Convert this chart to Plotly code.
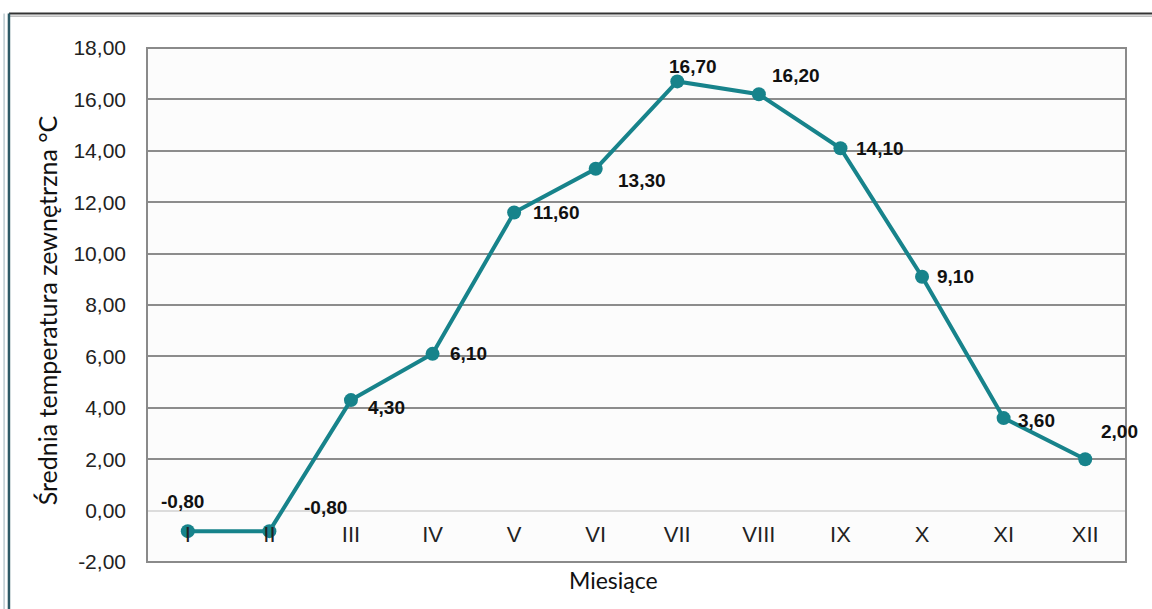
import plotly.graph_objects as go

months = ["I", "II", "III", "IV", "V", "VI", "VII", "VIII", "IX", "X", "XI", "XII"]
temps = [-0.8, -0.8, 4.3, 6.1, 11.6, 13.3, 16.7, 16.2, 14.1, 9.1, 3.6, 2.0]
y_ticks = [-2, 0, 2, 4, 6, 8, 10, 12, 14, 16, 18]

# label offsets in pixels (style)
lbl_dx = [-5, 56, 36, 36, 42, 46, 16, 37, 40, 33, 33, 34]
lbl_dy = [30, 24, -7, 0, 0, -12, 15, 19, 0, 0, -2, 28]


def fmt(v):
    return f"{v:.2f}".replace(".", ",")


teal = "#17838b"
fig = go.Figure()
fig.add_trace(go.Scatter(
    x=months, y=temps, mode="lines+markers",
    line=dict(color=teal, width=4),
    marker=dict(color=teal, size=14),
    hoverinfo="skip", showlegend=False,
))

for m, v, dx, dy in zip(months, temps, lbl_dx, lbl_dy):
    fig.add_annotation(
        x=m, y=v, xref="x", yref="y", showarrow=False,
        text=fmt(v), xshift=dx, yshift=dy,
        font=dict(family="Liberation Sans, Arial", size=19, color="#111111", weight="bold"),
    )

fig.add_annotation(
    text="Średnia temperatura zewnętrzna °C", textangle=-90,
    xref="paper", yref="paper", x=-0.102, y=0.49, xanchor="center", yanchor="middle",
    showarrow=False,
    font=dict(family="Lato, Open Sans", size=25, color="#111111"),
)
fig.add_annotation(
    text="Miesiące", xref="paper", yref="paper", x=0.476, y=-0.035,
    xanchor="center", yanchor="middle", showarrow=False,
    font=dict(family="Lato, Open Sans", size=23, color="#111111"),
)

# plot frame
fig.add_shape(type="rect", xref="paper", yref="paper", x0=0, y0=0, x1=1, y1=1,
              line=dict(color="#8a8a8a", width=2), layer="above")
# outer figure frame lines
fig.add_shape(type="line", xref="paper", yref="paper", x0=-0.141, x1=1.05, y0=1.067, y1=1.067,
              line=dict(color="#333333", width=2))
fig.add_shape(type="line", xref="paper", yref="paper", x0=-0.141, x1=1.05, y0=1.062, y1=1.062,
              line=dict(color="#999999", width=1))
fig.add_shape(type="line", xref="paper", yref="paper", x0=-0.141, x1=-0.141, y0=-0.1, y1=1.067,
              line=dict(color="#2e5a66", width=2.5))
fig.add_shape(type="line", xref="paper", yref="paper", x0=-0.146, x1=-0.146, y0=-0.1, y1=1.067,
              line=dict(color="#9ab0b8", width=1))

fig.update_layout(
    width=1152, height=609,
    margin=dict(l=147, r=26, t=48, b=47),
    paper_bgcolor="white", plot_bgcolor="#fcfcfc",
    font=dict(family="Liberation Sans, Arial", color="#222222"),
    xaxis=dict(
        type="category", categoryarray=months, range=[-0.5, 11.5],
        anchor="free", position=0.1, showline=False, showgrid=False, zeroline=False,
        ticks="", tickfont=dict(size=22, color="#222222"), ticklabelstandoff=8,
    ),
    yaxis=dict(
        range=[-2, 18], tickvals=y_ticks, ticktext=[fmt(t) for t in y_ticks],
        showgrid=True, gridcolor="#8c8c8c", gridwidth=1.5,
        zeroline=True, zerolinecolor="#dcdcdc", zerolinewidth=1.5,
        showline=False, ticks="", ticklabelstandoff=20,
        tickfont=dict(size=21, color="#222222"),
    ),
)

fig.write_html("out.html", config={"displayModeBar": False},
               post_script="document.body.style.margin='0';document.body.style.overflow='hidden';")
